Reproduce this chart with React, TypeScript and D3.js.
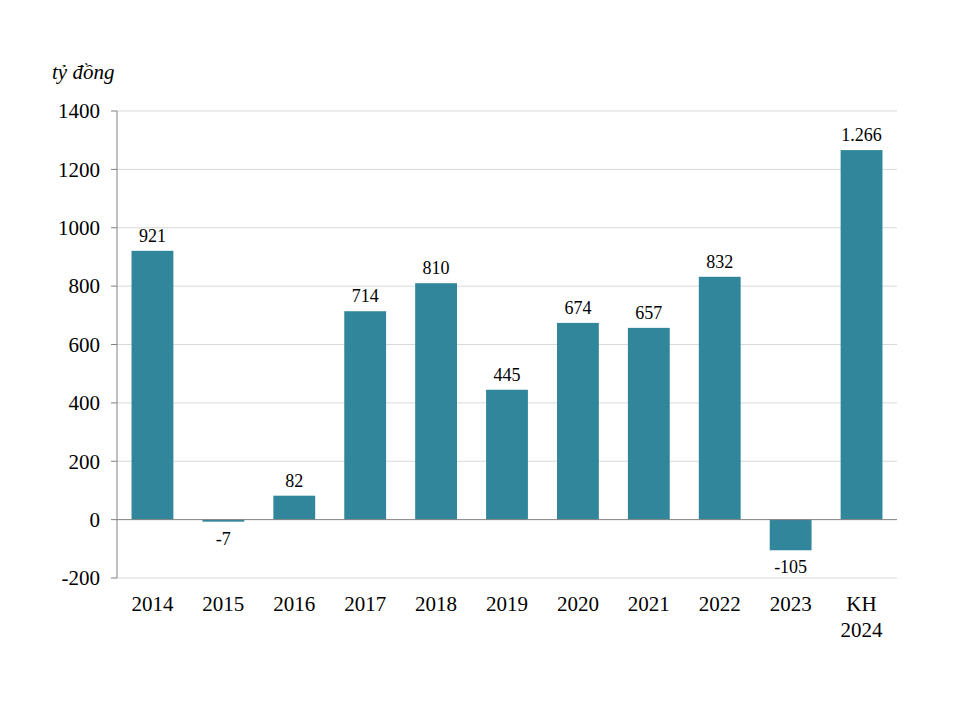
import React from "react";
import * as d3 from "d3";

const categories = ["2014", "2015", "2016", "2017", "2018", "2019", "2020", "2021", "2022", "2023", "KH\n2024"];
const values = [921, -7, 82, 714, 810, 445, 674, 657, 832, -105, 1266];
const labels = ["921", "-7", "82", "714", "810", "445", "674", "657", "832", "-105", "1.266"];
const yTicks = [-200, 0, 200, 400, 600, 800, 1000, 1200, 1400];

export default function App() {
  const W = 960, H = 720;
  const left = 117, right = 897, top = 111, bottom = 578;
  const x = d3.scaleBand<string>().domain(categories).range([left, right]).paddingInner(0.41).paddingOuter(0.205);
  const y = d3.scaleLinear().domain([-200, 1400]).range([bottom, top]);
  const font = "'Liberation Serif', 'Times New Roman', serif";
  const color = "#31869B";
  return (
    <svg width={W} height={H} style={{ position: "absolute", left: 0, top: 0, fontFamily: font }}>
      <rect width={W} height={H} fill="#fff" />
      <text x={52} y={79} fontSize={21} fontStyle="italic" fill="#000" style={{ fontFamily: font }}>tỷ đồng</text>
      {yTicks.map((t) => (
        <g key={t}>
          {t !== 0 && <line x1={left} x2={right} y1={y(t)} y2={y(t)} stroke="#d9d9d9" strokeWidth={1} />}
          <line x1={left - 6} x2={left} y1={y(t)} y2={y(t)} stroke="#808080" strokeWidth={1} />
          <text x={100} y={y(t)} dy="0.35em" textAnchor="end" fontSize={21} fill="#000" style={{ fontFamily: font }}>{t}</text>
        </g>
      ))}
      {categories.map((c, i) => {
        const v = values[i];
        const bx = x(c)!;
        const bw = x.bandwidth();
        const y0 = y(0), y1 = y(v);
        const cx = bx + bw / 2;
        return (
          <g key={c}>
            <rect x={bx} y={Math.min(y0, y1)} width={bw} height={Math.max(1.5, Math.abs(y1 - y0))} fill={color} />
            <text x={cx} y={v >= 0 ? y1 - 9 : y1 + 23} textAnchor="middle" fontSize={18} fill="#000" style={{ fontFamily: font }}>{labels[i]}</text>
            {c.split("\n").map((line, j) => (
              <text key={j} x={cx} y={611 + j * 26} textAnchor="middle" fontSize={21} fill="#000" style={{ fontFamily: font }}>{line}</text>
            ))}
          </g>
        );
      })}
      <line x1={left} x2={right} y1={y(0)} y2={y(0)} stroke="#808080" strokeWidth={1} />
      <line x1={left} x2={left} y1={top} y2={bottom} stroke="#808080" strokeWidth={1} />
    </svg>
  );
}
